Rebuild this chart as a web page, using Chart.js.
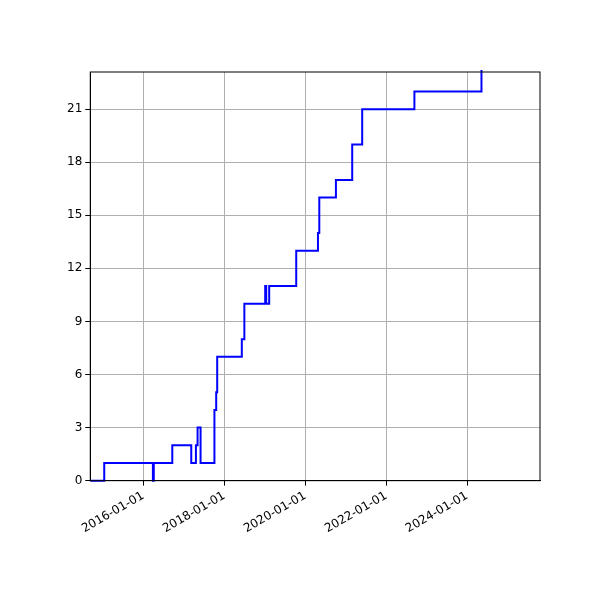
<!DOCTYPE html>
<html>
<head>
<script src="https://cdn.jsdelivr.net/npm/chart.js@4"></script>
<style>body{margin:0;background:#fff}#wrap{width:600px;height:600px}</style>
</head>
<body>
<div id="wrap"><canvas id="c"></canvas></div>
<script>
const dates = ['2014-09-10','2015-01-14','2016-03-28','2016-04-05','2016-09-19','2017-03-09','2017-04-20','2017-05-05',
  '2017-06-01','2017-10-04','2017-10-20','2017-10-29','2018-06-08','2018-07-01','2019-01-05','2019-01-14','2019-02-10',
  '2019-10-12','2020-04-25','2020-05-07','2020-10-04','2021-02-28','2021-05-29','2022-09-12','2024-05-09','2025-10-19']
const counts = [0,1,0,1,2,1,2,3,1,4,5,7,8,10,11,10,11,13,14,16,17,19,21,22,24,24]
const tickYears = [2016, 2018, 2020, 2022, 2024]
const yTicks = [0, 3, 6, 9, 12, 15, 18, 21]

const ts = d => Date.parse(d + 'T00:00:00Z')
const points = dates.map((d, i) => ({ x: ts(d), y: counts[i] }))

const boxPlugin = {
  id: 'box',
  afterDraw(chart) {
    const { ctx, chartArea: a } = chart
    ctx.save()
    ctx.strokeStyle = '#000'
    ctx.lineWidth = 1
    ctx.strokeRect(a.left, a.top, a.right - a.left, a.bottom - a.top)
    ctx.restore()
  }
}

new Chart(document.getElementById('c'), {
  type: 'line',
  data: { datasets: [{ data: points, borderColor: '#0000ff', borderWidth: 2, pointRadius: 0, stepped: 'before', clip: 2 }] },
  options: {
    responsive: true,
    maintainAspectRatio: false,
    animation: false,
    layout: { padding: { left: 64, right: 60, top: 72, bottom: 61 } },
    plugins: { legend: { display: false }, tooltip: { enabled: false } },
    scales: {
      x: {
        type: 'linear',
        min: ts('2014-09-10'), max: ts('2025-10-19'),
        afterBuildTicks: s => { s.ticks = tickYears.map(y => ({ value: Date.UTC(y, 0, 1) })) },
        ticks: {
          minRotation: 30, maxRotation: 30, color: '#000', font: { family: 'DejaVu Sans', size: 12 },
          callback: v => new Date(v).getUTCFullYear() + '-01-01'
        },
        grid: { color: '#b0b0b0', tickColor: '#000', tickLength: 5 },
        border: { color: '#000' }
      },
      y: {
        min: 0, max: 23.1,
        afterBuildTicks: s => { s.ticks = yTicks.map(v => ({ value: v })) },
        ticks: { color: '#000', font: { family: 'DejaVu Sans', size: 12 } },
        grid: { color: '#b0b0b0', tickColor: '#000', tickLength: 5 },
        border: { color: '#000' }
      }
    }
  },
  plugins: [boxPlugin]
})
</script>
</body>
</html>
